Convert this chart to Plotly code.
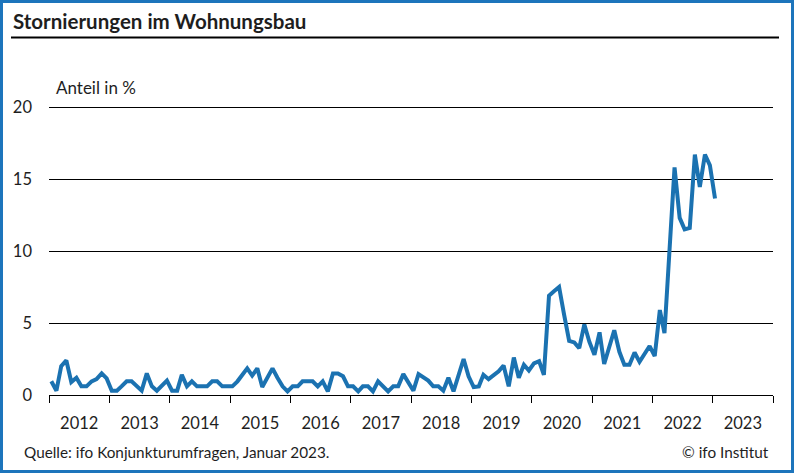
import pandas as pd
import plotly.graph_objects as go

# monthly share of firms reporting cancelled projects, Jan 2012 - Jan 2023
start_month = "2012-01-01"
values_2012 = [0.95, 0.3, 2.0, 2.4, 0.9, 1.2, 0.6, 0.6, 0.95, 1.1, 1.5, 1.15]
values_2013 = [0.3, 0.3, 0.6, 0.95, 0.95, 0.65, 0.3, 1.5, 0.6, 0.3, 0.65, 1.0]
values_2014 = [0.3, 0.3, 1.4, 0.6, 0.95, 0.6, 0.6, 0.6, 0.95, 0.95, 0.6, 0.6]
values_2015 = [0.6, 0.95, 1.4, 1.85, 1.35, 1.85, 0.55, 1.2, 1.85, 1.2, 0.6, 0.25]
values_2016 = [0.6, 0.6, 0.95, 0.95, 0.95, 0.6, 0.95, 0.25, 1.5, 1.5, 1.3, 0.6]
values_2017 = [0.6, 0.25, 0.6, 0.6, 0.25, 0.95, 0.6, 0.25, 0.6, 0.6, 1.45, 0.9]
values_2018 = [0.3, 1.45, 1.2, 1.0, 0.6, 0.6, 0.3, 1.2, 0.25, 1.4, 2.5, 1.3]
values_2019 = [0.55, 0.6, 1.4, 1.1, 1.4, 1.65, 2.05, 0.6, 2.6, 1.2, 2.1, 1.7]
values_2020 = [2.2, 2.35, 1.4, 6.9, 7.2, 7.5, 5.6, 3.75, 3.65, 3.25, 4.9, 3.7]
values_2021 = [2.8, 4.35, 2.15, 3.35, 4.5, 3.0, 2.1, 2.1, 2.95, 2.3, 2.9, 3.4]
values_2022 = [2.7, 5.9, 4.3, 10.1, 15.8, 12.3, 11.5, 11.6, 16.7, 14.45, 16.7, 15.95]
values_2023 = [13.65]

y_ticks = [0, 5, 10, 15, 20]

values = (values_2012 + values_2013 + values_2014 + values_2015 + values_2016
          + values_2017 + values_2018 + values_2019 + values_2020 + values_2021
          + values_2022 + values_2023)
months = pd.date_range(start_month, periods=len(values), freq="MS") + pd.Timedelta(days=14)

W, H = 794, 473
L, R, T, B = 49, 21, 106, 78
FONT = "Lato, 'Noto Sans', sans-serif"
BLUE = "#1b72b1"
TEXT = "#1e1e1e"


def px_x(px):
    return (px - L) / (W - L - R)


def px_y(py):
    return 1 - (py - T) / (H - T - B)


fig = go.Figure()
fig.add_trace(go.Scatter(
    x=months, y=values, mode="lines",
    line=dict(color=BLUE, width=4),
    hoverinfo="skip",
))

fig.update_layout(
    width=W, height=H,
    margin=dict(l=L, r=R, t=T, b=B),
    paper_bgcolor="white", plot_bgcolor="white",
    showlegend=False,
    font=dict(family=FONT, size=16, color=TEXT),
)
fig.update_xaxes(
    type="date",
    range=["2012-01-01", "2024-01-01"],
    dtick="M12", tick0="2012-01-01",
    tickformat="%Y", ticklabelmode="period",
    showgrid=False, zeroline=False,
    showline=True, linecolor="black", linewidth=1,
    ticks="outside", ticklen=7, tickcolor="black", tickwidth=1,
    ticklabelstandoff=6,
    tickfont=dict(size=16.5),
)
# a hair of headroom so the 20 gridline is drawn
fig.update_yaxes(
    range=[0, 20.07], tickvals=y_ticks,
    showgrid=True, gridcolor="black", gridwidth=1,
    zeroline=False, showline=False, ticks="",
    ticklabelstandoff=16,
    tickfont=dict(size=16.5),
)

# title, rule, axis caption and footer
fig.add_annotation(text="<b>Stornierungen im Wohnungsbau</b>", xref="paper", yref="paper",
                   x=px_x(11), y=px_y(21), xanchor="left", yanchor="middle",
                   showarrow=False, font=dict(size=20.5, color=TEXT))
fig.add_shape(type="line", xref="paper", yref="paper",
              x0=px_x(11), x1=px_x(779), y0=px_y(37.5), y1=px_y(37.5),
              line=dict(color="black", width=2))
fig.add_annotation(text="Anteil in %", xref="paper", yref="paper",
                   x=px_x(54), y=px_y(87), xanchor="left", yanchor="middle",
                   showarrow=False, font=dict(size=17, color=TEXT))
fig.add_annotation(text="Quelle: ifo Konjunkturumfragen, Januar 2023.", xref="paper", yref="paper",
                   x=px_x(22), y=px_y(452), xanchor="left", yanchor="middle",
                   showarrow=False, font=dict(size=15.3, color=TEXT))
fig.add_annotation(text="© ifo Institut", xref="paper", yref="paper",
                   x=px_x(771), y=px_y(452), xanchor="right", yanchor="middle",
                   showarrow=False, font=dict(size=15.3, color=TEXT))
# blue frame round the whole picture
fig.add_shape(type="rect", xref="paper", yref="paper",
              x0=px_x(1.5), x1=px_x(W - 1.5), y0=px_y(1.5), y1=px_y(H - 1.5),
              line=dict(color="#1d75bc", width=3))

# page margin off so the figure sits at the window's top-left corner
fig.write_html("out.html", config={"displayModeBar": False},
               post_script="document.body.style.margin='0';")
